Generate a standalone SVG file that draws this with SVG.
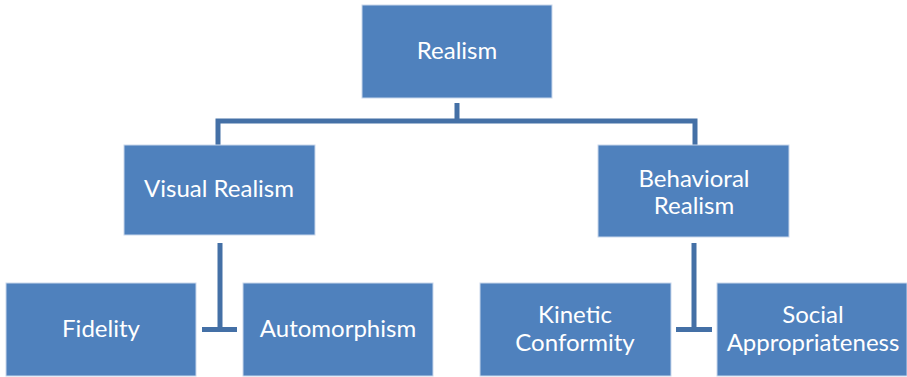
<svg xmlns="http://www.w3.org/2000/svg" width="907" height="377" viewBox="0 0 907 377">
<style>
.box{fill:#4F81BD;stroke:#C9D7EC;stroke-width:1}
.lbl{font-family:Lato,"Open Sans","Liberation Sans",sans-serif;font-size:24px;fill:#FFFFFF;text-anchor:middle}
.con{fill:none;stroke:#4470A6;stroke-width:5}
</style>
<rect width="907" height="377" fill="#FFFFFF"/>
<g id="connectors">
<path class="con" d="M457,103 V121 M218,121 H695 M218,118.5 V145 M695,118.5 V145"/>
<path class="con" d="M220,243 V330 M202,329.5 H237"/>
<path class="con" d="M694,243 V330 M676,329.5 H712"/>
</g>
<g id="realism"><rect class="box" x="362" y="5" width="190" height="93"/><text class="lbl" x="457" y="59">Realism</text></g>
<g id="visual-realism"><rect class="box" x="124" y="145" width="191" height="90"/><text class="lbl" x="219" y="197">Visual Realism</text></g>
<g id="behavioral-realism"><rect class="box" x="598" y="145" width="191" height="92"/><text class="lbl" x="694" y="187">Behavioral</text><text class="lbl" x="694" y="214">Realism</text></g>
<g id="fidelity"><rect class="box" x="6" y="283" width="190" height="93"/><text class="lbl" x="101" y="337">Fidelity</text></g>
<g id="automorphism"><rect class="box" x="243" y="283" width="190" height="93"/><text class="lbl" x="338" y="337">Automorphism</text></g>
<g id="kinetic-conformity"><rect class="box" x="480" y="283" width="191" height="93"/><text class="lbl" x="575" y="323">Kinetic</text><text class="lbl" x="575" y="351">Conformity</text></g>
<g id="social-appropriateness"><rect class="box" x="717" y="283" width="190" height="93"/><text class="lbl" x="813" y="323">Social</text><text class="lbl" x="813" y="351">Appropriateness</text></g>
</svg>
